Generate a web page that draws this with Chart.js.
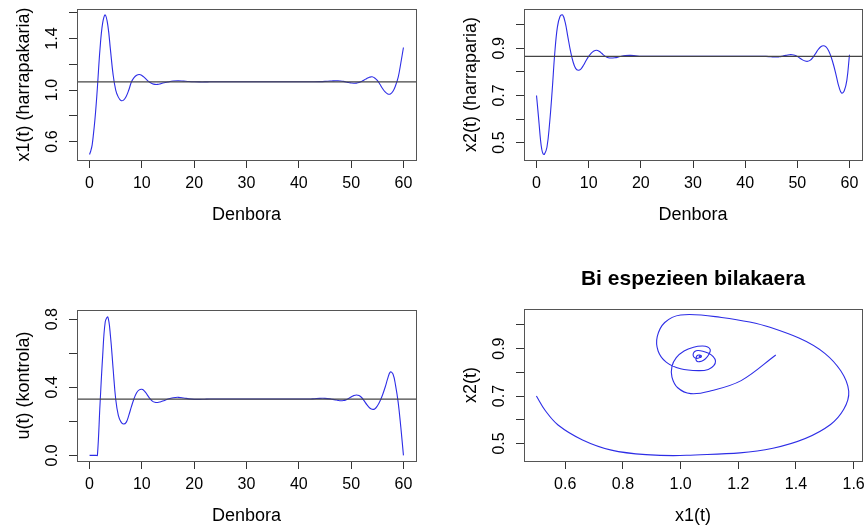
<!DOCTYPE html>
<html>
<head>
<meta charset="utf-8">
<script src="https://cdn.jsdelivr.net/npm/chart.js@4/dist/chart.umd.min.js"></script>
<style>
  html, body { margin: 0; padding: 0; background: #fff; }
  #wrap { position: relative; width: 866px; height: 529px; }
  canvas { position: absolute; }
</style>
</head>
<body>
<div id="wrap">
  <canvas id="c1" width="433" height="265" style="left:0;top:0"></canvas>
  <canvas id="c2" width="433" height="265" style="left:433px;top:0"></canvas>
  <canvas id="c3" width="433" height="264" style="left:0;top:265px"></canvas>
  <canvas id="c4" width="433" height="264" style="left:433px;top:265px"></canvas>
</div>
<script>
// time grid (Denbora)
const T = [
  0, 0.25, 0.5, 0.75, 1, 1.25, 1.5, 2, 2.5, 3, 3.5, 4, 4.5, 5, 5.5, 6, 6.5, 7, 7.5, 8, 8.5, 9, 9.5, 10, 10.5, 11, 11.5, 12, 12.5, 13, 13.5, 14,
  15, 16, 17, 18, 19, 20, 21, 22, 23, 24, 25, 26, 27, 28, 29, 30, 31, 32, 33, 34, 35, 36, 37, 38, 39, 40, 41, 42, 43, 44, 45, 46,
  46.5, 47, 47.5, 48, 48.5, 49, 49.5, 50, 50.5, 51, 51.5, 52, 52.5, 53, 53.5, 54, 54.5, 55, 55.5, 56, 56.5, 57, 57.5, 58, 58.5, 59, 59.5, 60
];

// x1(t) harrapakaria
const X1 = [
  0.50, 0.53, 0.575, 0.66, 0.76, 0.88, 1.02, 1.32, 1.52, 1.583, 1.50, 1.31, 1.12, 1.00, 0.945, 0.919, 0.922, 0.95, 1.00, 1.062, 1.096, 1.115, 1.121, 1.113, 1.097, 1.077, 1.06, 1.049, 1.044, 1.044, 1.048, 1.054,
  1.063, 1.07, 1.072, 1.069, 1.066, 1.064, 1.063, 1.063, 1.064, 1.064, 1.064, 1.064, 1.064, 1.064, 1.064, 1.064, 1.064, 1.064, 1.064, 1.064, 1.064, 1.064, 1.064, 1.064, 1.064, 1.064, 1.064, 1.064, 1.064, 1.065, 1.067, 1.07,
  1.071, 1.072, 1.072, 1.07, 1.067, 1.063, 1.058, 1.055, 1.053, 1.054, 1.058, 1.066, 1.078, 1.09, 1.099, 1.103, 1.094, 1.075, 1.045, 1.012, 0.985, 0.97, 0.97, 0.99, 1.035, 1.10, 1.21, 1.33
];

// x2(t) harraparia
const X2 = [
  0.70, 0.64, 0.578, 0.515, 0.472, 0.453, 0.45, 0.48, 0.58, 0.72, 0.88, 0.99, 1.035, 1.042, 1.01, 0.95, 0.89, 0.843, 0.815, 0.807, 0.812, 0.828, 0.848, 0.866, 0.88, 0.889, 0.892, 0.888, 0.879, 0.869, 0.862, 0.859,
  0.86, 0.865, 0.869, 0.87, 0.868, 0.866, 0.866, 0.866, 0.866, 0.866, 0.866, 0.866, 0.866, 0.866, 0.866, 0.866, 0.866, 0.866, 0.866, 0.866, 0.866, 0.866, 0.866, 0.866, 0.866, 0.866, 0.866, 0.866, 0.866, 0.866, 0.864, 0.863,
  0.864, 0.866, 0.869, 0.871, 0.873, 0.873, 0.871, 0.866, 0.858, 0.851, 0.846, 0.845, 0.85, 0.862, 0.878, 0.895, 0.907, 0.911, 0.906, 0.89, 0.862, 0.825, 0.78, 0.735, 0.71, 0.72, 0.765, 0.873
];

// u(t) kontrola
const U = [
  0, 0, 0, 0, 0, 0, 0, 0.30, 0.58, 0.785, 0.812, 0.70, 0.51, 0.33, 0.235, 0.197, 0.184, 0.194, 0.235, 0.286, 0.333, 0.368, 0.385, 0.388, 0.378, 0.357, 0.335, 0.319, 0.312, 0.311, 0.314, 0.319,
  0.331, 0.339, 0.341, 0.337, 0.332, 0.329, 0.329, 0.33, 0.331, 0.331, 0.331, 0.331, 0.331, 0.331, 0.331, 0.331, 0.331, 0.331, 0.331, 0.331, 0.331, 0.331, 0.331, 0.331, 0.331, 0.331, 0.331, 0.331, 0.333, 0.335, 0.335, 0.332,
  0.329, 0.326, 0.323, 0.321, 0.322, 0.326, 0.334, 0.343, 0.351, 0.355, 0.352, 0.34, 0.32, 0.298, 0.28, 0.271, 0.273, 0.29, 0.318, 0.355, 0.40, 0.452, 0.49, 0.478, 0.41, 0.31, 0.165, 0
];

// equilibrium levels (horizontal lines)
const EQ_X1 = 1.064;
const EQ_X2 = 0.866;
const EQ_U = 0.331;

// axis limits
const T_RANGE = [-2.4, 62.4];
const X1_RANGE = [0.457, 1.629];
const X2_RANGE = [0.426, 1.067];
const U_RANGE = [-0.033, 0.854];

// ticks and their labels
const T_TICKS = [0, 10, 20, 30, 40, 50, 60];
const T_LABELS = ['0', '10', '20', '30', '40', '50', '60'];
const X1_TICKS = [0.6, 0.8, 1.0, 1.2, 1.4, 1.6];
const X1_LABELS = ['0.6', '', '1.0', '', '1.4', ''];
const X1_PHASE_LABELS = ['0.6', '0.8', '1.0', '1.2', '1.4', '1.6'];
const X2_TICKS = [0.5, 0.6, 0.7, 0.8, 0.9, 1.0];
const X2_LABELS = ['0.5', '', '0.7', '', '0.9', ''];
const U_TICKS = [0, 0.2, 0.4, 0.6, 0.8];
const U_LABELS = ['0.0', '', '0.4', '', '0.8'];

Chart.defaults.font.family = '"Liberation Sans", Arial, Helvetica, sans-serif';
Chart.defaults.color = '#000';

const BLUE = 'rgb(45,45,230)';

function pairs(xs, ys) {
    return xs.map((x, i) => ({ x: x, y: ys[i] }));
}

// R-like box around the plot region
const boxPlugin = {
    id: 'box',
    afterDatasetsDraw(chart) {
        const { ctx, chartArea: a } = chart;
        ctx.save();
        ctx.strokeStyle = '#555';
        ctx.lineWidth = 1;
        ctx.strokeRect(Math.round(a.left) + 0.5, Math.round(a.top) + 0.5,
            Math.round(a.right - a.left), Math.round(a.bottom - a.top));
        ctx.restore();
    }
};

function makeAxis(range, tickVals, tickLabels, title, horizontal) {
    return {
        type: 'linear',
        min: range[0],
        max: range[1],
        afterBuildTicks: s => { s.ticks = tickVals.map(v => ({ value: v })); },
        afterFit: s => {
            if (horizontal) s.height = 66; else s.width = 77;
            s.paddingLeft = s.paddingRight = s.paddingTop = s.paddingBottom = 0;
        },
        grid: { drawOnChartArea: false, drawTicks: true, tickLength: 8, color: '#333', lineWidth: 1 },
        border: { display: false },
        ticks: {
            autoSkip: false,
            padding: horizontal ? 6 : 5,
            minRotation: horizontal ? 0 : 90,
            maxRotation: horizontal ? 0 : 90,
            crossAlign: horizontal ? 'near' : 'center',
            font: { size: 16 },
            color: '#000',
            callback: (v, i) => tickLabels[i]
        },
        title: {
            display: true,
            text: title,
            color: '#000',
            font: { size: 18 },
            padding: horizontal ? { top: 0, bottom: 0 } : { top: 13, bottom: 0 }
        }
    };
}

function curve(data, tension) {
    return { data: data, borderColor: BLUE, borderWidth: 1.1, pointRadius: 0, tension: tension, fill: false };
}

function hline(level) {
    return {
        data: [{ x: T_RANGE[0], y: level }, { x: T_RANGE[1], y: level }],
        borderColor: '#444', borderWidth: 1.3, pointRadius: 0, tension: 0, fill: false
    };
}

function makePanel(id, datasets, xAxis, yAxis, padding, title) {
    new Chart(document.getElementById(id), {
        type: 'line',
        data: { datasets: datasets },
        options: {
            responsive: false,
            animation: false,
            events: [],
            layout: { padding: padding },
            plugins: {
                legend: { display: false },
                tooltip: { enabled: false },
                title: title ? {
                    display: true,
                    text: title,
                    color: '#000',
                    fullSize: false,
                    font: { size: 21, weight: 'bold', lineHeight: 1.2 },
                    padding: { top: 1.4, bottom: 17.4 }
                } : { display: false }
            },
            scales: { x: xAxis, y: yAxis }
        },
        plugins: [boxPlugin]
    });
}

makePanel('c1',
    [hline(EQ_X1), curve(pairs(T, X1), 0.4)],
    makeAxis(T_RANGE, T_TICKS, T_LABELS, 'Denbora', true),
    makeAxis(X1_RANGE, X1_TICKS, X1_LABELS, 'x1(t) (harrapakaria)', false),
    { left: 0, top: 9, right: 17, bottom: 39 });

makePanel('c2',
    [hline(EQ_X2), curve(pairs(T, X2), 0.4)],
    makeAxis(T_RANGE, T_TICKS, T_LABELS, 'Denbora', true),
    makeAxis(X2_RANGE, X2_TICKS, X2_LABELS, 'x2(t) (harraparia)', false),
    { left: 14, top: 9, right: 4, bottom: 39 });

makePanel('c3',
    [hline(EQ_U), curve(pairs(T, U), 0.4)],
    makeAxis(T_RANGE, T_TICKS, T_LABELS, 'Denbora', true),
    makeAxis(U_RANGE, U_TICKS, U_LABELS, 'u(t) (kontrola)', false),
    { left: 0, top: 45, right: 17, bottom: 2 });

makePanel('c4',
    [curve(pairs(X1, X2), 0.35)],
    makeAxis(X1_RANGE, X1_TICKS, X1_PHASE_LABELS, 'x1(t)', true),
    makeAxis(X2_RANGE, X2_TICKS, X2_LABELS, 'x2(t)', false),
    { left: 14, top: 0, right: 4, bottom: 2 },
    'Bi espezieen bilakaera');
</script>
</body>
</html>
